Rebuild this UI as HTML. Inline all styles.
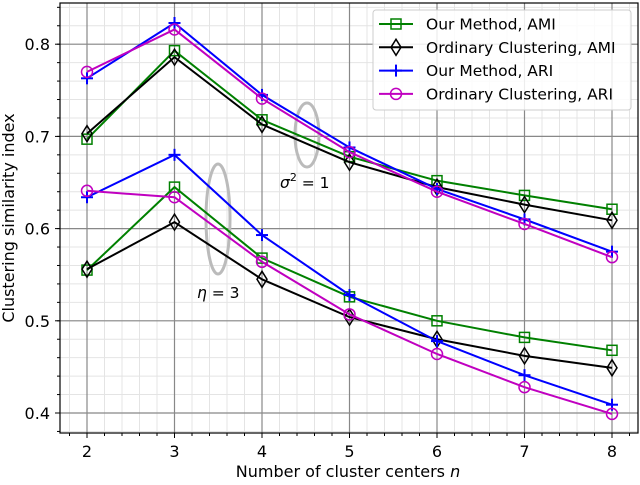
<!DOCTYPE html>
<html><head><meta charset="utf-8"><style>
body{margin:0;background:#fff}
svg text{font-family:"DejaVu Sans","Liberation Sans",sans-serif}
</style></head><body>
<svg id="c" width="640" height="480" xmlns="http://www.w3.org/2000/svg"></svg>
<script>
const categories=[2,3,4,5,6,7,8];
const xTicks=[2,3,4,5,6,7,8];
const yTicks=[0.4,0.5,0.6,0.7,0.8];
const ourAmiHigh=[0.697,0.793,0.718,0.678,0.652,0.636,0.621];
const ordAmiHigh=[0.703,0.786,0.713,0.672,0.645,0.626,0.609];
const ourAriHigh=[0.763,0.823,0.745,0.688,0.643,0.610,0.575];
const ordAriHigh=[0.770,0.816,0.741,0.683,0.640,0.605,0.569];
const ourAmiLow=[0.555,0.645,0.568,0.526,0.500,0.482,0.468];
const ordAmiLow=[0.556,0.607,0.545,0.504,0.480,0.462,0.449];
const ourAriLow=[0.634,0.680,0.593,0.528,0.478,0.441,0.409];
const ordAriLow=[0.641,0.634,0.564,0.507,0.464,0.428,0.399];
const legendLabels=["Our Method, AMI","Ordinary Clustering, AMI","Our Method, ARI","Ordinary Clustering, ARI"];

const L=60,R=638,T=3,B=433;
const X=v=>87+(v-2)*87.5;
const Y=v=>413-(v-0.4)*922;
const NS="http://www.w3.org/2000/svg";
const svg=document.getElementById('c');
function mk(tag,at,parent){const e=document.createElementNS(NS,tag);for(const k in at)e.setAttribute(k,at[k]);(parent||svg).appendChild(e);return e;}

for(let v=1.8;v<=8.31;v+=0.2){const x=X(v);if(x<L||x>R)continue;mk('line',{x1:x,x2:x,y1:T,y2:B,stroke:'#e4e4e4','stroke-width':1});}
for(let v=0.38;v<=0.85;v+=0.02){const y=Y(v);if(y<T||y>B)continue;mk('line',{x1:L,x2:R,y1:y,y2:y,stroke:'#e4e4e4','stroke-width':1});}
xTicks.forEach(t=>{const x=X(t);
 const g=mk('line',{x1:x,x2:x,y1:T,y2:B,stroke:'#888','stroke-width':1.2});
 
 mk('line',{x1:x,x2:x,y1:B,y2:B+5,stroke:'#000'});
 const tx=mk('text',{x:x,y:B+24,'text-anchor':'middle','font-size':16});tx.textContent=t;
 });
yTicks.forEach(t=>{const y=Y(t);
 const g=mk('line',{x1:L,x2:R,y1:y,y2:y,stroke:'#888','stroke-width':1.2});
 
 mk('line',{x1:L-5,x2:L,y1:y,y2:y,stroke:'#000'});
 const tx=mk('text',{x:L-10,y:y+6,'text-anchor':'end','font-size':16});tx.textContent=t.toFixed(1);
 });
for(let v=1.8;v<=8.31;v+=0.2){const x=X(v);if(x<L||x>R)continue;mk('line',{x1:x,x2:x,y1:B,y2:B+3,stroke:'#000'});}
for(let v=0.38;v<=0.85;v+=0.02){const y=Y(v);if(y<T||y>B)continue;mk('line',{x1:L-3,x2:L,y1:y,y2:y,stroke:'#000'});}

const e1=mk('ellipse',{cx:307,cy:135,rx:12,ry:32,fill:'none',stroke:'#bbb','stroke-width':3});

const e2=mk('ellipse',{cx:218,cy:219,rx:12,ry:55,fill:'none',stroke:'#bbb','stroke-width':3});

const a1=mk('text',{x:280,y:188,'font-size':15.5});a1.innerHTML='<tspan font-style="italic">σ</tspan><tspan dy="-7" font-size="11">2</tspan><tspan dy="7"> = 1</tspan>';

const a2=mk('text',{x:197,y:298,'font-size':15.5});a2.innerHTML='<tspan font-style="italic">η</tspan> = 3';


function marker(type,x,y,col,g){
 if(type==='sq')mk('rect',{x:x-5,y:y-5,width:10,height:10,fill:'none',stroke:col,'stroke-width':1.5},g);
 else if(type==='di')mk('polygon',{points:`${x},${y-8} ${x+5},${y} ${x},${y+8} ${x-5},${y}`,fill:'none',stroke:col,'stroke-width':1.5},g);
 else if(type==='pl'){mk('line',{x1:x-6,x2:x+6,y1:y,y2:y,stroke:col,'stroke-width':2},g);mk('line',{x1:x,x2:x,y1:y-6,y2:y+6,stroke:col,'stroke-width':2},g);}
 else mk('circle',{cx:x,cy:y,r:5.5,fill:'none',stroke:col,'stroke-width':1.5},g);
}
function series(vals,col,type,name){
 const g=mk('g',{});
 
 mk('polyline',{points:vals.map((v,i)=>X(categories[i])+','+Y(v)).join(' '),fill:'none',stroke:col,'stroke-width':2},g);
 vals.forEach((v,i)=>marker(type,X(categories[i]),Y(v),col,g));
}
series(ourAmiLow,'#008000','sq','our-ami-eta-series');
series(ordAmiLow,'#000','di','ordinary-ami-eta-series');
series(ourAriLow,'#0000ff','pl','our-ari-eta-series');
series(ordAriLow,'#c000c0','ci','ordinary-ari-eta-series');
series(ourAmiHigh,'#008000','sq','our-ami-sigma-series');
series(ordAmiHigh,'#000','di','ordinary-ami-sigma-series');
series(ourAriHigh,'#0000ff','pl','our-ari-sigma-series');
series(ordAriHigh,'#c000c0','ci','ordinary-ari-sigma-series');

mk('rect',{x:L,y:T,width:R-L,height:B-T,fill:'none',stroke:'#000','stroke-width':1.2});

const lg=mk('g',{});
mk('rect',{x:373,y:10,width:258,height:100,rx:3,fill:'#fff','fill-opacity':0.85,stroke:'#ccc'},lg);
const lc=['#008000','#000','#0000ff','#c000c0'],lt=['sq','di','pl','ci'];
legendLabels.forEach((s,i)=>{const y=24+i*23.3;
 const ge=mk('g',{},lg);
 mk('line',{x1:379,x2:413,y1:y,y2:y,stroke:lc[i],'stroke-width':2},ge);
 marker(lt[i],396,y,lc[i],ge);
 const t=mk('text',{x:426,y:y+5.5,'font-size':15.5},ge);t.textContent=s;});

const xl=mk('text',{x:348,y:477,'text-anchor':'middle','font-size':16});xl.innerHTML='Number of cluster centers <tspan font-style="italic">n</tspan>';

const yl=mk('text',{x:0,y:0,'text-anchor':'middle','font-size':16,transform:'translate(14,218) rotate(-90)'});yl.textContent='Clustering similarity index';

</script>
</body></html>
